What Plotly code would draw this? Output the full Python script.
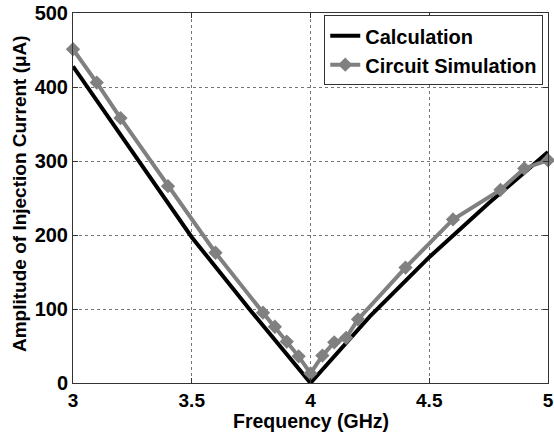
import plotly.graph_objects as go

calc_freq = [3.0, 3.25, 3.5, 3.75, 4.0, 4.25, 4.5, 4.75, 5.0]
calc_amp = [428, 312, 197, 97, 0, 90, 170, 243, 312]

sim_freq = [3.0, 3.1, 3.2, 3.4, 3.6, 3.8, 3.85, 3.9, 3.95, 4.0, 4.05, 4.1, 4.15, 4.2, 4.4, 4.6, 4.8, 4.9, 5.0]
sim_amp = [451, 406, 358, 266, 176, 95, 76, 56, 36, 13, 37, 55, 61, 86, 156, 221, 261, 290, 301]

x_ticks = [3, 3.5, 4, 4.5, 5]
x_tick_labels = ["3", "3.5", "4", "4.5", "5"]
y_ticks = [0, 100, 200, 300, 400, 500]

font_family = "Liberation Sans, Arial, sans-serif"
W, H = 554, 439
ML, MR, MT, MB = 73, 6, 13, 56

fig = go.Figure()
fig.add_trace(go.Scatter(
    x=calc_freq, y=calc_amp, mode="lines", name="Calculation",
    line=dict(color="black", width=4), cliponaxis=False,
))
fig.add_trace(go.Scatter(
    x=sim_freq, y=sim_amp, mode="lines+markers", name="Circuit Simulation",
    line=dict(color="#808080", width=4),
    marker=dict(symbol="diamond", size=11, color="#808080"),
    cliponaxis=False,
))

axis_common = dict(
    showline=True, linecolor="#333333", linewidth=1, mirror="ticks",
    ticks="inside", ticklen=5, tickcolor="#333333",
    showgrid=True, gridcolor="#777777", griddash="dot", gridwidth=1,
    zeroline=False, automargin=False,
)

tick_font = dict(family=font_family, size=20, color="black", weight="bold")
title_font = dict(family=font_family, size=19, color="black", weight="bold")

fig.update_layout(
    width=W, height=H,
    margin=dict(l=ML, r=MR, t=MT, b=MB, autoexpand=False),
    paper_bgcolor="white", plot_bgcolor="white",
    showlegend=True,
    legend=dict(
        x=0.99, y=0.994, xanchor="right", yanchor="top",
        bgcolor="white", bordercolor="#333333", borderwidth=1,
        font=dict(family=font_family, size=20, color="black", weight="bold"),
        tracegroupgap=0, itemwidth=30,
    ),
    xaxis=dict(range=[3, 5], tickvals=x_ticks, ticktext=x_tick_labels,
               tickfont=dict(tick_font, size=19), **axis_common),
    yaxis=dict(range=[0, 500], tickvals=y_ticks, tickfont=tick_font, **axis_common),
    annotations=[
        dict(text="Frequency (GHz)", xref="paper", yref="paper",
             x=(311 - ML) / (W - ML - MR), y=-(421 - (H - MB)) / (H - MT - MB),
             xanchor="center", yanchor="middle", showarrow=False,
             font=dict(title_font, size=19.5)),
        dict(text="Amplitude of Injection Current (μA)", xref="paper", yref="paper",
             x=-(ML - 19) / (W - ML - MR), y=((H - MB) - 194) / (H - MT - MB),
             xanchor="center", yanchor="middle", showarrow=False, textangle=-90,
             font=title_font),
    ],
)

fig.write_html(
    "out.html",
    config={"displayModeBar": False},
    post_script="document.body.style.margin='0';document.body.style.overflow='hidden';",
)
